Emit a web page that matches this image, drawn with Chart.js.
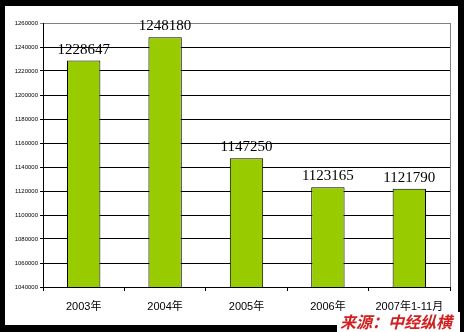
<!DOCTYPE html>
<html>
<head>
<meta charset="utf-8">
<script src="https://cdn.jsdelivr.net/npm/chart.js@4"></script>
<style>
  html, body { margin: 0; padding: 0; background: #000; width: 464px; height: 332px; overflow: hidden; }
  #box { position: absolute; left: 5px; top: 6px; width: 453px; height: 319px; background: #fff; }
  #source {
    position: absolute; left: 337px; top: 312px; width: 123px; height: 20px;
    background: #fff; color: #d02020; font: italic bold 16px "Noto Sans CJK SC", sans-serif;
    line-height: 19px; padding-left: 3px; box-sizing: border-box; white-space: nowrap;
  }
</style>
</head>
<body>
<div id="box"><canvas id="chart" width="453" height="319"></canvas></div>
<div id="source">来源：中经纵横</div>
<script>
const categories = ['2003年', '2004年', '2005年', '2006年', '2007年1-11月'];
const values = [1228647, 1248180, 1147250, 1123165, 1121790];
const yMin = 1040000;
const yMax = 1260000;
const yStep = 20000;

// value labels above each bar
const barLabels = {
    id: 'barLabels',
    afterDatasetsDraw(chart) {
        const ctx = chart.ctx;
        const meta = chart.getDatasetMeta(0);
        ctx.save();
        ctx.font = '15px "Liberation Serif", serif';
        ctx.fillStyle = '#000';
        ctx.textAlign = 'center';
        ctx.textBaseline = 'alphabetic';
        meta.data.forEach((bar, i) => {
            ctx.fillText(String(values[i]), bar.x, bar.y - 7);
        });
        ctx.restore();
    }
};

// grey right border of the plot
const rightBorder = {
    id: 'rightBorder',
    afterDraw(chart) {
        const a = chart.chartArea;
        const ctx = chart.ctx;
        ctx.save();
        ctx.strokeStyle = '#808080';
        ctx.lineWidth = 1;
        ctx.beginPath();
        ctx.moveTo(Math.round(a.right) + 0.5, a.top);
        ctx.lineTo(Math.round(a.right) + 0.5, a.bottom);
        ctx.stroke();
        ctx.restore();
    }
};

new Chart(document.getElementById('chart'), {
    type: 'bar',
    data: {
        labels: categories,
        datasets: [{
            data: values,
            backgroundColor: '#99cc00',
            borderColor: '#000',
            borderWidth: 1,
            barPercentage: 0.41,
            categoryPercentage: 1
        }]
    },
    options: {
        responsive: false,
        animation: false,
        layout: { padding: { top: 17, right: 8, left: 0, bottom: 0 } },
        plugins: { legend: { display: false }, tooltip: { enabled: false } },
        scales: {
            x: {
                offset: true,
                grid: { offset: true, drawOnChartArea: false, color: '#000', tickLength: 4 },
                border: { color: '#000' },
                ticks: { color: '#000', padding: 9, maxRotation: 0, font: { size: 11, family: '"Liberation Sans", "Noto Sans CJK SC", sans-serif' } },
                afterFit(axis) { axis.height = 38; }
            },
            y: {
                min: yMin,
                max: yMax,
                grid: {
                    color: (c) => (c.tick && c.tick.value === yMax ? '#808080' : '#000'),
                    tickLength: 3
                },
                border: { color: '#000' },
                ticks: {
                    stepSize: yStep,
                    color: '#000',
                    padding: 2,
                    font: { size: 6, family: '"Liberation Sans", sans-serif' },
                    callback: (v) => String(v)
                },
                afterFit(axis) { axis.width = 38; }
            }
        }
    },
    plugins: [barLabels, rightBorder]
});
</script>
</body>
</html>
